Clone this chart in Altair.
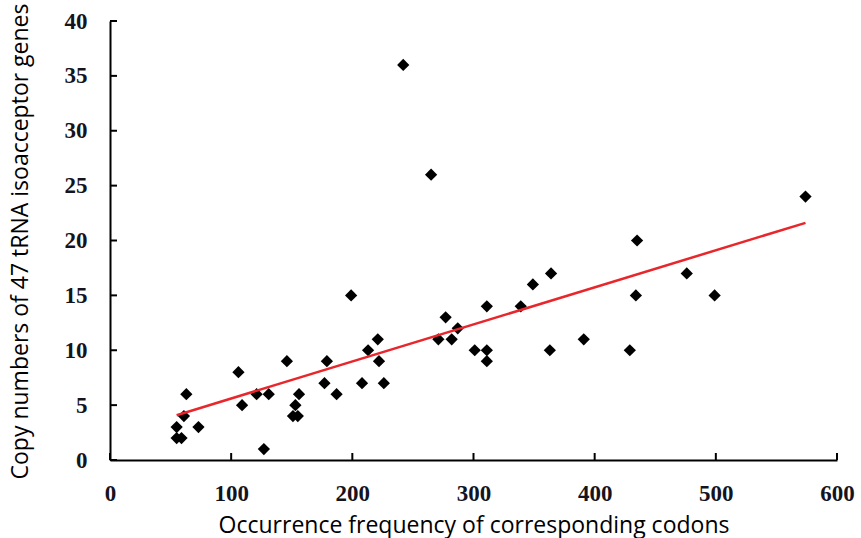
import altair as alt
import pandas as pd

# Occurrence frequency of corresponding codons (x) and tRNA gene copy numbers (y)
freq = [55, 55, 59, 63, 61, 73, 106, 109, 121, 131, 127, 146, 156, 153, 151, 155,
        177, 179, 187, 199, 208, 213, 221, 222, 226, 242, 265, 271, 277, 282, 287,
        301, 311, 311, 311, 339, 349, 364, 363, 391, 429, 434, 435, 476, 499, 574]
copies = [3, 2, 2, 6, 4, 3, 8, 5, 6, 6, 1, 9, 6, 5, 4, 4,
          7, 9, 6, 15, 7, 10, 11, 9, 7, 36, 26, 11, 13, 11, 12,
          10, 10, 9, 14, 14, 16, 17, 10, 11, 10, 15, 20, 17, 15, 24]

x_ticks = [0, 100, 200, 300, 400, 500, 600]
y_ticks = [0, 5, 10, 15, 20, 25, 30, 35, 40]

W, H = 727, 439

df = pd.DataFrame({"freq": freq, "copies": copies})
xt = pd.DataFrame({"v": x_ticks})
yt = pd.DataFrame({"v": y_ticks})

xscale = alt.Scale(domain=[0, 600], nice=False, zero=True)
yscale = alt.Scale(domain=[0, 40], nice=False, zero=True)

xaxis = alt.Axis(
    values=x_ticks, ticks=False, grid=False, domainColor="black", domainWidth=2,
    labelFont="Liberation Serif", labelFontWeight="bold", labelFontSize=23,
    labelColor="#141420", labelPadding=22, labelBaseline="top",
    labelFlush=False, labelOverlap=False, labelBound=False,
    title="Occurrence frequency of corresponding codons",
    titleFont="Open Sans", titleFontSize=23, titleFontWeight="normal",
    titleColor="black", titleY=65, titleBaseline="middle",
)
yaxis = alt.Axis(
    values=y_ticks, ticks=False, grid=False, domainColor="black", domainWidth=2,
    labelFont="Liberation Serif", labelFontWeight="bold", labelFontSize=23,
    labelColor="#141420", labelPadding=23, labelBaseline="middle",
    labelFlush=False, labelOverlap=False, labelBound=False,
    title="Copy numbers of 47 tRNA isoacceptor genes",
    titleFont="Open Sans", titleFontSize=23, titleFontWeight="normal",
    titleColor="black", titleX=-90, titleY=220, titleAngle=-90,
    titleAlign="center", titleBaseline="middle",
)

base = alt.Chart(df)

points = base.mark_point(shape="diamond", filled=True, color="black", size=150, opacity=1).encode(
    x=alt.X("freq:Q", scale=xscale, axis=xaxis),
    y=alt.Y("copies:Q", scale=yscale, axis=yaxis),
)

reg = base.transform_regression("freq", "copies").mark_line(color="#e8262b", strokeWidth=2.5).encode(
    x=alt.X("freq:Q", scale=xscale),
    y=alt.Y("copies:Q", scale=yscale),
)

xt_rules = alt.Chart(xt).mark_rule(color="black", strokeWidth=2).encode(
    x=alt.X("v:Q", scale=xscale),
    y=alt.value(H),
    y2=alt.value(H - 7),
)
yt_rules = alt.Chart(yt).mark_rule(color="black", strokeWidth=2).encode(
    y=alt.Y("v:Q", scale=yscale),
    x=alt.value(0),
    x2=alt.value(7),
)

chart = alt.layer(points, reg, xt_rules, yt_rules).properties(
    width=W, height=H,
    autosize=alt.AutoSizeParams(type="none"),
    padding={"left": 110, "top": 21, "right": 24, "bottom": 78},
    background="white",
).configure_view(stroke=None)

chart.save("out.html", embed_options={"renderer": "svg", "actions": False})
